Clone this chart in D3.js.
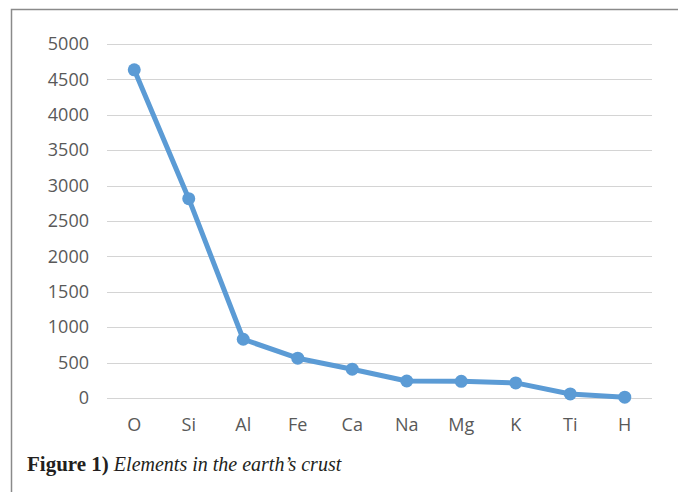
<!DOCTYPE html>
<html><head><meta charset="utf-8">
<script src="https://cdn.jsdelivr.net/npm/d3@7"></script>
<style>
html,body{margin:0;padding:0;background:#fff;}
svg{display:block;}
</style></head>
<body>
<script>
const categories = ["O","Si","Al","Fe","Ca","Na","Mg","K","Ti","H"];
const values = [4635, 2815, 830, 562, 407, 240, 235, 213, 57, 12];
const yTicks = [0,500,1000,1500,2000,2500,3000,3500,4000,4500,5000];
const captionBold = "Figure 1)";
const captionItalic = "Elements in the earth\u2019s crust";

const W = 678, H = 492;
const svg = d3.select("body").append("svg").attr("width", W).attr("height", H);

// frame
svg.append("path").attr("d", "M11.5,492 V9.5 H678").attr("fill","none")
  .attr("stroke","#8a8a8a").attr("stroke-width",1.5);

const x = d3.scaleBand().domain(categories).range([107, 652]);
const y = d3.scaleLinear().domain([0,5000]).range([398, 44]);

// gridlines
svg.append("g").selectAll("line").data(yTicks).join("line")
  .attr("x1",107).attr("x2",652)
  .attr("y1",d=>Math.round(y(d))+0.5).attr("y2",d=>Math.round(y(d))+0.5)
  .attr("stroke","#d4d4d4").attr("stroke-width",1.2);

// y axis labels
const yAxis = d3.axisLeft(y).tickValues(yTicks).tickSize(0).tickPadding(0).tickFormat(d3.format("d"));
const gy = svg.append("g").attr("transform","translate(89,0)").call(yAxis);
gy.select(".domain").remove();
gy.selectAll("text").attr("font-family","'Open Sans', sans-serif").attr("font-size",18)
  .attr("fill","#595959");

// x axis labels
const xAxis = d3.axisBottom(x).tickSize(0).tickPadding(0);
const gx = svg.append("g").attr("transform","translate(0,418)").call(xAxis);
gx.select(".domain").remove();
gx.selectAll("text").attr("font-family","'Open Sans', sans-serif").attr("font-size",18)
  .attr("fill","#595959");

const cx = d => x(d) + x.bandwidth()/2;
const data = categories.map((c,i)=>({c, v: values[i]}));

svg.append("path").datum(data)
  .attr("fill","none").attr("stroke","#5b9bd5").attr("stroke-width",5)
  .attr("stroke-linejoin","round").attr("stroke-linecap","round")
  .attr("d", d3.line().x(d=>cx(d.c)).y(d=>y(d.v)));

svg.append("g").selectAll("circle").data(data).join("circle")
  .attr("cx", d=>cx(d.c)).attr("cy", d=>y(d.v)).attr("r",6.5)
  .attr("fill","#5b9bd5");

// caption
const cap = svg.append("text").attr("x",27).attr("y",471)
  .attr("font-family","'Liberation Serif', 'DejaVu Serif', serif").attr("fill","#231f20");
cap.append("tspan").attr("font-weight","bold").attr("font-size",21).text(captionBold);
cap.append("tspan").attr("font-style","italic").attr("font-size",20).attr("dx",5).text(captionItalic);
</script>
</body></html>
